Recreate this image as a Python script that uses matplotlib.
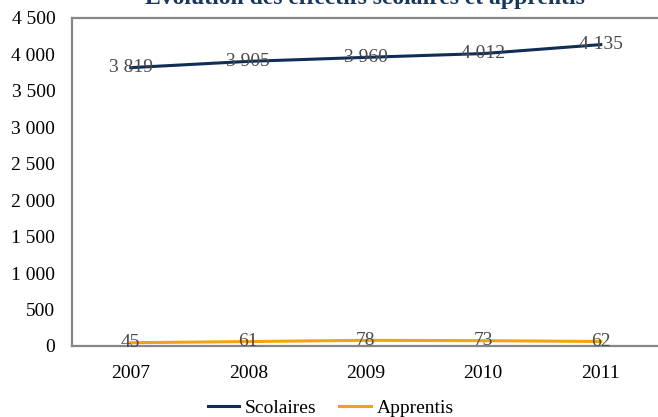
import matplotlib.pyplot as plt
from matplotlib.ticker import FuncFormatter

years = ['2007', '2008', '2009', '2010', '2011']
scolaires = [3819, 3905, 3960, 4012, 4135]
apprentis = [45, 61, 78, 73, 62]

navy = '#0F2D55'
orange = '#F2A30F'
grey = '#868686'
txt = '#4A4A4A'

plt.rcParams['font.family'] = ['Liberation Serif', 'DejaVu Serif']

def fmt(v):
    return '{:,}'.format(int(v)).replace(',', ' ')

fig = plt.figure(figsize=(6.58, 4.17), dpi=100)
ax = fig.add_axes([72 / 658, 1 - 346 / 417, (659.5 - 72) / 658, 328 / 417])

x = range(len(years))
ax.plot(x, scolaires, color=navy, lw=2.2, label='Scolaires', clip_on=False)
ax.plot(x, apprentis, color=orange, lw=2.2, label='Apprentis', clip_on=False)

for i, v in enumerate(scolaires):
    ax.text(i, v, fmt(v), ha='center', va='center', fontsize=14, color=txt)
for i, v in enumerate(apprentis):
    ax.text(i, v, fmt(v), ha='center', va='center', fontsize=14, color=txt)

ax.set_xlim(-0.5, 4.5)
ax.set_ylim(0, 4500)
ax.set_yticks(range(0, 4501, 500))
ax.yaxis.set_major_formatter(FuncFormatter(lambda v, p: fmt(v)))
ax.set_xticks(list(x))
ax.set_xticklabels(years)
ax.tick_params(length=0, labelsize=14, labelcolor='black')
ax.tick_params(axis='x', pad=14)
ax.tick_params(axis='y', pad=12)

for s in ['left', 'top', 'bottom']:
    ax.spines[s].set_color(grey)
    ax.spines[s].set_linewidth(1.6)
ax.spines['right'].set_visible(False)

# title sits mostly above the image edge, as in the original
fig.text(365 / 658, 1 - 4 / 417, 'Évolution des effectifs scolaires et apprentis',
         ha='center', va='baseline', fontsize=17, fontweight='bold', color='#17375E')

ax.legend(loc='center', bbox_to_anchor=(0.44, -0.19), ncol=2, frameon=False,
          fontsize=14, handlelength=1.6, handletextpad=0.3, columnspacing=1.2)

fig.savefig('out.png', dpi=100)
